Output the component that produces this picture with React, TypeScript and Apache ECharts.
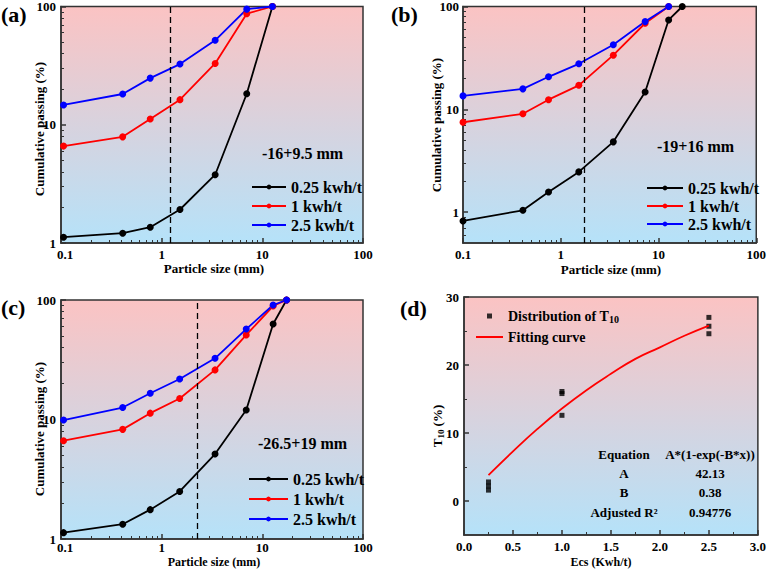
import React, { useEffect, useRef } from "react";
import * as echarts from "echarts";

const FONT = "'Liberation Serif', 'Times New Roman', serif";

// ---------- data ----------
const energyNames = ["0.25 kwh/t", "1 kwh/t", "2.5 kwh/t"];
const energyColors = ["#000000", "#ff0000", "#0000ff"];

const sizesA = [0.106, 0.41, 0.77, 1.52, 3.4, 7.0, 12.6];
const passA025 = [1.12, 1.21, 1.36, 1.92, 3.78, 18.3, 100];
const passA1 = [6.6, 7.9, 11.2, 16.3, 33, 87, 100];
const passA25 = [14.7, 18.2, 24.8, 32.6, 51.8, 95, 100];

const sizesB = [0.1, 0.41, 0.75, 1.53, 3.45, 7.3, 12.7, 17.5];
const passB025 = [0.82, 1.04, 1.57, 2.46, 4.82, 14.7, 74, 100];
const passB1 = [7.48, 9.03, 12.4, 17.1, 33.6, 68.7, 100];
const passB25 = [13.5, 15.8, 20.7, 27.7, 42.5, 71.3, 100];

const sizesC = [0.106, 0.41, 0.77, 1.51, 3.39, 6.92, 12.8, 17.4];
const passC025 = [1.13, 1.33, 1.76, 2.5, 5.14, 12.0, 63, 100];
const passC1 = [6.65, 8.27, 11.3, 15.0, 26.0, 51, 89, 100];
const passC25 = [9.9, 12.6, 16.6, 21.8, 32.5, 57.1, 90.8, 100];

const t10Cutoffs = [1.23, 1.74, 2.24];
const sizeRangeLabels = ["-16+9.5 mm", "-19+16 mm", "-26.5+19 mm"];
const panelLetters = ["(a)", "(b)", "(c)", "(d)"];
const xTitles = ["Particle size (mm)", "Particle size (mm)", "Particle size (mm)", "Ecs (Kwh/t)"];
const yTitles = ["Cumulative passing (%)", "Cumulative passing (%)", "Cumulative passing (%)", "{n|T}{s|10}{n| (%)}"];

const logMajorY = [1, 10, 100];
const logMinorX = [0.2, 0.3, 0.4, 0.5, 0.6, 0.7, 0.8, 0.9, 2, 3, 4, 5, 6, 7, 8, 9, 20, 30, 40, 50, 60, 70, 80, 90];
const logMinorY = [2, 3, 4, 5, 6, 7, 8, 9, 20, 30, 40, 50, 60, 70, 80, 90];
const logMinorYB = [0.6, 0.7, 0.8, 0.9, 2, 3, 4, 5, 6, 7, 8, 9, 20, 30, 40, 50, 60, 70, 80, 90];

const ecsPoints = [0.25, 0.25, 0.25, 1, 1, 1, 2.5, 2.5, 2.5];
const t10Values = [1.6, 2.2, 2.8, 15.8, 16.1, 12.6, 27.0, 25.7, 24.6];
const fitEcs = [0.25, 0.5, 0.75, 1, 1.25, 1.5, 1.75, 2, 2.25, 2.5];
const fitT10 = [3.8, 7.3, 10.6, 13.6, 16.3, 18.7, 20.9, 22.6, 24.3, 25.8];
const t10MajorTicks = [0, 10, 20, 30];
const t10MinorTicks = [5, 15, 25];

const tableLabels = ["Equation", "A", "B", "Adjusted R\u00b2"];
const tableValues = ["A*(1-exp(-B*x))", "42.13", "0.38", "0.94776"];

const t10Name = "Distribution of T10";
const fitName = "Fitting curve";

// ---------- layout ----------
const grids = [
  { left: 61, top: 5, width: 302, height: 238 },
  { left: 463, top: 5, width: 297, height: 238 },
  { left: 61, top: 300, width: 302, height: 239 },
  { left: 464, top: 297, width: 299, height: 238 },
];
const xTitlePos = [
  { x: 214, y: 268, size: 13 },
  { x: 611, y: 269, size: 13 },
  { x: 214, y: 562, size: 12 },
  { x: 601, y: 562, size: 12 },
];
const yTitlePos = [
  { x: 39, y: 129 },
  { x: 436, y: 125 },
  { x: 39, y: 429 },
  { x: 437, y: 426 },
];

const logPanels = [
  {
    sizes: sizesA, passes: [passA025, passA1, passA25], yMin: 1, yMinor: logMinorY, padFirst: true, xMargin: 6,
    legend: { left: 246, top: 174, itemWidth: 34, itemGap: 3 },
    label: { x: 262, y: 153 },
  },
  {
    sizes: sizesB, passes: [passB025, passB1, passB25], yMin: 0.5, yMinor: logMinorYB, padFirst: false, xMargin: 6,
    legend: { left: 641, top: 175, itemWidth: 36, itemGap: 2 },
    label: { x: 657, y: 146 },
  },
  {
    sizes: sizesC, passes: [passC025, passC1, passC25], yMin: 1, yMinor: logMinorY, padFirst: true, xMargin: 3,
    legend: { left: 243, top: 466, itemWidth: 39, itemGap: 4 },
    label: { x: 258, y: 443 },
  },
];

const letterPos = [
  { x: 1, y: 14 },
  { x: 391, y: 14 },
  { x: 1, y: 307 },
  { x: 400, y: 308 },
];

const AX = { color: "#333", width: 1.5 };
const labelText = { fontFamily: FONT, fontWeight: "bold" as const, fontSize: 13, color: "#000", lineHeight: 11 };
const subRich = {
  n: { fontFamily: FONT, fontWeight: "bold", fontSize: 13, fill: "#000", color: "#000", lineHeight: 16 },
  s: { fontFamily: FONT, fontWeight: "bold", fontSize: 9, fill: "#000", color: "#000", lineHeight: 8, verticalAlign: "bottom" },
};

const bgGradient = {
  type: "linear", x: 0, y: 0, x2: 0, y2: 1,
  colorStops: [
    { offset: 0, color: "#fbc3c3" },
    { offset: 1, color: "#b5e2f9" },
  ],
};

function fmtLog(v: number) {
  return String(parseFloat(Number(v).toPrecision(6)));
}

function buildOption() {
  const xAxis: any[] = [];
  const yAxis: any[] = [];
  const series: any[] = [];
  const legend: any[] = [];
  const graphic: any[] = [];

  logPanels.forEach((p, gi) => {
    xAxis.push({
      type: "log", logBase: 10, gridIndex: gi, min: 0.1, max: 100, position: "bottom",
      axisLine: { show: true, onZero: false, lineStyle: AX },
      axisTick: { show: true, inside: true, length: 5, lineStyle: AX },
      axisLabel: {
        ...labelText, margin: p.xMargin,
        formatter: (v: number) => {
          const s = fmtLog(v);
          return p.padFirst && s === "0.1" ? "{f|0.1}" : s;
        },
        rich: {
          f: { fontFamily: FONT, fontWeight: "bold", fontSize: 13, color: "#000", lineHeight: 11, padding: [0, 0, 0, 8] },
        },
      },
      splitLine: { show: false },
    });
    xAxis.push({
      type: "log", logBase: 10, gridIndex: gi, min: 0.1, max: 100, position: "bottom",
      axisLine: { show: false },
      axisTick: { show: true, inside: true, length: 3, customValues: logMinorX, lineStyle: { color: "#333", width: 1 } },
      axisLabel: { show: false },
      splitLine: { show: false },
    });
    yAxis.push({
      type: "log", logBase: 10, gridIndex: gi, min: p.yMin, max: 100, position: "left",
      axisLine: { show: true, onZero: false, lineStyle: AX },
      axisTick: { show: true, inside: true, length: 5, customValues: logMajorY, lineStyle: AX },
      axisLabel: { ...labelText, margin: p.padFirst ? 5 : 4, customValues: logMajorY, formatter: fmtLog },
      splitLine: { show: false },
    });
    yAxis.push({
      type: "log", logBase: 10, gridIndex: gi, min: p.yMin, max: 100, position: "left",
      axisLine: { show: false },
      axisTick: { show: true, inside: true, length: 3, customValues: p.yMinor, lineStyle: { color: "#333", width: 1 } },
      axisLabel: { show: false },
      splitLine: { show: false },
    });

    p.passes.forEach((vals, k) => {
      const s: any = {
        type: "line", name: energyNames[k], xAxisIndex: gi * 2, yAxisIndex: gi * 2,
        data: vals.map((v, i) => [p.sizes[i], v]),
        symbol: "circle", symbolSize: 7,
        lineStyle: { color: energyColors[k], width: 1.8 },
        itemStyle: { color: energyColors[k] },
        clip: true,
      };
      if (k === 0) {
        s.markLine = {
          silent: true, symbol: ["none", "none"], label: { show: false },
          lineStyle: { type: [6, 4], color: "#000", width: 1.3 },
          data: [{ xAxis: t10Cutoffs[gi] }],
        };
      }
      series.push(s);
    });

    legend.push({
      show: true, orient: "vertical", left: p.legend.left, top: p.legend.top,
      itemWidth: p.legend.itemWidth, itemHeight: 6, itemGap: p.legend.itemGap,
      selectedMode: false, data: energyNames,
      textStyle: { fontFamily: FONT, fontWeight: "bold", fontSize: 16, color: "#000", lineHeight: 16 },
    });

    graphic.push({
      type: "text", x: p.label.x, y: p.label.y,
      style: { text: sizeRangeLabels[gi], font: `bold 16px ${FONT}`, fill: "#000", textAlign: "left", textVerticalAlign: "middle" },
    });
  });

  // panel (d)
  xAxis.push({
    type: "value", gridIndex: 3, min: 0, max: 3, interval: 0.5, position: "bottom",
    axisLine: { show: true, onZero: false, lineStyle: AX },
    axisTick: { show: true, inside: true, length: 5, lineStyle: AX },
    minorTick: { show: true, splitNumber: 2, length: 3, lineStyle: { color: "#333", width: 1 } },
    axisLabel: { ...labelText, margin: 6, formatter: (v: number) => v.toFixed(1) },
    splitLine: { show: false },
    minorSplitLine: { show: false },
  });
  yAxis.push({
    type: "value", gridIndex: 3, min: -5, max: 30, interval: 5, position: "left",
    axisLine: { show: true, onZero: false, lineStyle: AX },
    axisTick: { show: true, inside: true, length: 5, customValues: t10MajorTicks, lineStyle: AX },
    axisLabel: { ...labelText, margin: 5, customValues: t10MajorTicks },
    splitLine: { show: false },
  });
  yAxis.push({
    type: "value", gridIndex: 3, min: -5, max: 30, interval: 5, position: "left",
    axisLine: { show: false },
    axisTick: { show: true, inside: true, length: 3, customValues: t10MinorTicks, lineStyle: { color: "#333", width: 1 } },
    axisLabel: { show: false },
    splitLine: { show: false },
  });

  series.push({
    type: "line", name: fitName, xAxisIndex: 6, yAxisIndex: 6, smooth: true, symbol: "none",
    data: fitEcs.map((x, i) => [x, fitT10[i]]),
    lineStyle: { color: "#ff0000", width: 1.8 }, itemStyle: { color: "#ff0000" },
  });
  series.push({
    type: "scatter", name: t10Name, xAxisIndex: 6, yAxisIndex: 6,
    symbol: "path://M0 0H10V10H0Z", symbolSize: 5,
    itemStyle: { color: "#000" },
    data: ecsPoints.map((x, i) => [x, t10Values[i]]),
  });

  legend.push({
    show: true, orient: "vertical", left: 470, top: 303,
    itemWidth: 27, itemHeight: 5, itemGap: 5, selectedMode: false,
    data: [{ name: t10Name }, { name: fitName, itemStyle: { opacity: 0 } }],
    formatter: (name: string) => (name === t10Name ? "{n|Distribution of T}{s|10}" : "{n|" + name + "}"),
    textStyle: {
      fontFamily: FONT, fontWeight: "bold", fontSize: 14, color: "#000", lineHeight: 16,
      rich: {
        n: { fontFamily: FONT, fontWeight: "bold", fontSize: 14, color: "#000", lineHeight: 16 },
        s: { fontFamily: FONT, fontWeight: "bold", fontSize: 10, color: "#000", lineHeight: 8, verticalAlign: "bottom" },
      },
    },
  });

  // axis titles
  xTitles.forEach((t, i) => {
    graphic.push({
      type: "text", x: xTitlePos[i].x, y: xTitlePos[i].y,
      style: {
        text: t, font: `bold ${xTitlePos[i].size}px ${FONT}`, fill: "#000", lineHeight: 12,
        textAlign: "center", textVerticalAlign: "middle",
      },
    });
  });
  yTitles.forEach((t, i) => {
    const isRich = t.indexOf("{") === 0;
    graphic.push({
      type: "text", x: yTitlePos[i].x, y: yTitlePos[i].y, rotation: Math.PI / 2,
      style: isRich
        ? { text: t, rich: subRich, fill: "#000", textAlign: "center", textVerticalAlign: "middle" }
        : { text: t, font: `bold 13px ${FONT}`, fill: "#000", textAlign: "center", textVerticalAlign: "middle" },
    });
  });

  panelLetters.forEach((t, i) => {
    graphic.push({
      type: "text", x: letterPos[i].x, y: letterPos[i].y,
      style: { text: t, font: `bold 22px ${FONT}`, fill: "#000", textAlign: "left", textVerticalAlign: "middle" },
    });
  });

  const tableRowsY = [454, 473, 492, 512];
  tableLabels.forEach((t, i) => {
    graphic.push({
      type: "text", x: 624, y: tableRowsY[i],
      style: { text: t, font: `bold 13px ${FONT}`, fill: "#000", textAlign: "center", textVerticalAlign: "middle" },
    });
    graphic.push({
      type: "text", x: 710, y: tableRowsY[i],
      style: { text: tableValues[i], font: `bold 13px ${FONT}`, fill: "#000", textAlign: "center", textVerticalAlign: "middle" },
    });
  });

  return {
    animation: false,
    backgroundColor: "#ffffff",
    textStyle: { fontFamily: FONT },
    grid: grids.map((g) => ({
      ...g, show: true, backgroundColor: bgGradient, borderColor: "#333", borderWidth: 1.5, containLabel: false,
    })),
    xAxis, yAxis, series, legend, graphic,
  };
}

export default function App() {
  const ref = useRef<HTMLDivElement>(null);
  useEffect(() => {
    if (!ref.current) return;
    const chart = echarts.init(ref.current, undefined, { renderer: "svg" });
    chart.setOption(buildOption() as any);
    return () => chart.dispose();
  }, []);
  return <div ref={ref} style={{ position: "absolute", left: 0, top: 0, width: 769, height: 569 }} />;
}
